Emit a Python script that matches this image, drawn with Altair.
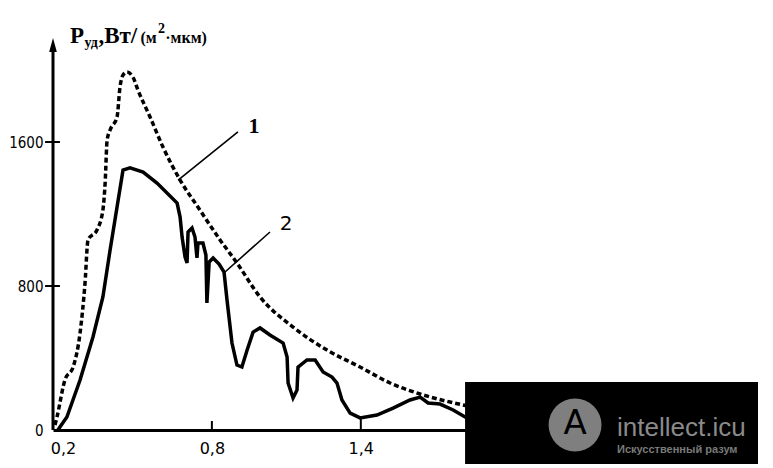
import altair as alt
import pandas as pd

# ---- data (wavelength, µm ; specific power, W/(m²·µm)) ----
dash_x = [0.168, 0.176, 0.208, 0.241, 0.269, 0.289, 0.301, 0.337, 0.361, 0.370, 0.378,
          0.390, 0.418, 0.430, 0.442, 0.458, 0.482, 0.502, 0.551, 0.603, 0.672, 0.752,
          0.833, 0.901, 0.994, 1.127, 1.264, 1.397, 1.518, 1.639, 1.812, 1.860]
dash_y = [28, 72, 278, 350, 539, 817, 1056, 1111, 1222, 1372, 1611,
          1667, 1739, 1906, 1972, 1989, 1961, 1889, 1739, 1572, 1389, 1222,
          1056, 928, 739, 572, 444, 350, 261, 200, 139, 125]

solid_x = [0.180, 0.188, 0.216, 0.269, 0.321, 0.361, 0.390, 0.418, 0.442, 0.470, 0.523,
           0.579, 0.660, 0.672, 0.680, 0.692, 0.700, 0.704, 0.720, 0.732, 0.740, 0.744,
           0.764, 0.776, 0.780, 0.789, 0.805, 0.829, 0.849, 0.861, 0.881, 0.901, 0.921,
           0.942, 0.966, 0.994, 1.034, 1.087, 1.103, 1.107, 1.127, 1.143, 1.147, 1.183,
           1.216, 1.248, 1.284, 1.304, 1.324, 1.357, 1.397, 1.465, 1.530, 1.598, 1.639,
           1.671, 1.719, 1.772, 1.820, 1.860]
solid_y = [0, 17, 72, 278, 517, 739, 1000, 1239, 1444, 1456, 1433,
           1372, 1261, 1183, 1072, 961, 928, 1100, 1122, 1072, 956, 1039,
           1039, 972, 706, 933, 956, 922, 878, 722, 483, 361, 350,
           444, 544, 567, 528, 483, 406, 261, 178, 222, 350, 389,
           389, 322, 294, 261, 167, 94, 67, 83, 122, 167, 183,
           150, 144, 111, 72, 50]

x_ticks = [0.2, 0.8, 1.4]
y_ticks = [0, 800, 1600]

# curve labels and leader lines
lab_text = ["1", "2"]
lab_x = [0.970, 1.099]
lab_y = [1650, 1111]
lead_x = [0.664, 0.853]
lead_y = [1389, 878]
lead_x2 = [0.905, 1.034]
lead_y2 = [1656, 1100]

# axis title pieces
title_text = ["Р", "уд", ",Вт/", "(м", "2", "·мкм)"]
title_x = [0.2285, 0.287, 0.343, 0.512, 0.583, 0.612]
title_y = [2150, 2128, 2150, 2150, 2206, 2150]
title_size = [23, 14, 23, 16, 14, 16]

W, H = 705, 392
xs = alt.Scale(domain=[0.16, 3.0], nice=False, zero=False)
ys = alt.Scale(domain=[0, 2178], nice=False)

dash_df = pd.DataFrame({"x": dash_x, "y": dash_y})
solid_df = pd.DataFrame({"x": solid_x, "y": solid_y})

dashed = alt.Chart(dash_df).mark_line(
    color="black", strokeWidth=3.5, strokeDash=[5, 3], interpolate="monotone"
).encode(
    x=alt.X("x:Q", scale=xs, axis=alt.Axis(
        values=x_ticks, title=None, grid=False, ticks=False, domain=True,
        domainColor="black", domainWidth=3,
        labelExpr="replace(format(datum.value, '.1f'), '.', ',')",
        labelFont="DejaVu Sans", labelFontSize=16, labelColor="black",
        labelPadding=10)),
    y=alt.Y("y:Q", scale=ys, axis=alt.Axis(
        values=y_ticks, title=None, grid=False, ticks=False, domain=False,
        format="d",
        labelFont="DejaVu Sans Condensed", labelFontSize=15, labelColor="black",
        labelPadding=10)),
    order="x:Q",
)

solid = alt.Chart(solid_df).mark_line(
    color="black", strokeWidth=3.5, interpolate="linear"
).encode(x="x:Q", y="y:Q", order="x:Q")

# y-axis line with arrow
yaxis_df = pd.DataFrame({"x": [0.16], "y0": [0], "y1": [2110]})
yaxis = alt.Chart(yaxis_df).mark_rule(color="black", strokeWidth=3).encode(
    x="x:Q", y="y0:Q", y2="y1:Q")
arrow = alt.Chart(pd.DataFrame({"x": [0.16], "y": [2139]})).mark_point(
    shape="M0,-1L0.55,1L-0.55,1Z", size=196, filled=True, color="black", opacity=1
).encode(x="x:Q", y="y:Q")

# ticks
ytick_df = pd.DataFrame({"y": y_ticks[1:], "xa": [0.128] * 2, "xb": [0.188] * 2})
yticks = alt.Chart(ytick_df).mark_rule(color="black", strokeWidth=2).encode(
    x="xa:Q", x2="xb:Q", y="y:Q")
xtick_df = pd.DataFrame({"x": x_ticks[1:], "ya": [0] * 2, "yb": [50, 65]})
xticks = alt.Chart(xtick_df).mark_rule(color="black", strokeWidth=2).encode(
    x="x:Q", y="ya:Q", y2="yb:Q")

# leader lines and labels
lead_df = pd.DataFrame({"x": lead_x, "y": lead_y, "x2": lead_x2, "y2": lead_y2})
leaders = alt.Chart(lead_df).mark_rule(color="black", strokeWidth=1.6).encode(
    x="x:Q", y="y:Q", x2="x2:Q", y2="y2:Q")
lab_df = pd.DataFrame({"t": lab_text, "x": lab_x, "y": lab_y})
lab1 = alt.Chart(lab_df.iloc[[0]]).mark_text(
    font="Liberation Serif", fontWeight="bold", fontSize=22, baseline="alphabetic",
    align="center", color="black").encode(x="x:Q", y="y:Q", text="t:N")
lab2 = alt.Chart(lab_df.iloc[[1]]).mark_text(
    font="DejaVu Sans", fontSize=20, baseline="alphabetic",
    align="center", color="black").encode(x="x:Q", y="y:Q", text="t:N")

# axis title
title_df = pd.DataFrame({"t": title_text, "x": title_x, "y": title_y, "s": title_size})
title = alt.Chart(title_df).mark_text(
    font="Liberation Serif", fontWeight="bold", baseline="alphabetic",
    align="left", color="black").encode(
    x="x:Q", y="y:Q", text="t:N", size=alt.Size("s:Q", scale=None, legend=None))

# watermark block
wm_rect = alt.Chart(pd.DataFrame({"x": [1.82], "x2": [3.06], "y": [267], "y2": [-200]})
                    ).mark_rect(color="black").encode(x="x:Q", x2="x2:Q", y="y:Q", y2="y2:Q")
wm_circle = alt.Chart(pd.DataFrame({"x": [2.263], "y": [28]})).mark_point(
    shape="circle", size=2800, filled=True, color="#7f7f7f", opacity=1
).encode(x="x:Q", y="y:Q")
wm_a = alt.Chart(pd.DataFrame({"x": [2.263], "y": [-25], "t": ["A"]})).mark_text(
    font="DejaVu Sans", fontSize=34, color="black", baseline="alphabetic", align="center"
).encode(x="x:Q", y="y:Q", text="t:N")
wm_t1 = alt.Chart(pd.DataFrame({"x": [2.432], "y": [-33], "t": ["intellect.icu"]})).mark_text(
    font="Liberation Sans", fontSize=26, color="#8a8a8a", baseline="alphabetic", align="left"
).encode(x="x:Q", y="y:Q", text="t:N")
wm_t2 = alt.Chart(pd.DataFrame({"x": [2.432], "y": [-130], "t": ["Искусственный разум"]})).mark_text(
    font="Liberation Sans", fontSize=11, fontWeight="bold", color="#7a7a7a",
    baseline="alphabetic", align="left"
).encode(x="x:Q", y="y:Q", text="t:N")

chart = alt.layer(
    dashed, solid, yaxis, arrow, yticks, xticks, leaders, lab1, lab2, title,
    wm_rect, wm_circle, wm_a, wm_t1, wm_t2
).properties(
    width=W, height=H, autosize="none",
    padding={"left": 45, "top": 30, "right": 0, "bottom": 34},
    background="white",
).configure_view(stroke=None)

chart.save("out.html", embed_options={"renderer": "svg", "actions": False})
